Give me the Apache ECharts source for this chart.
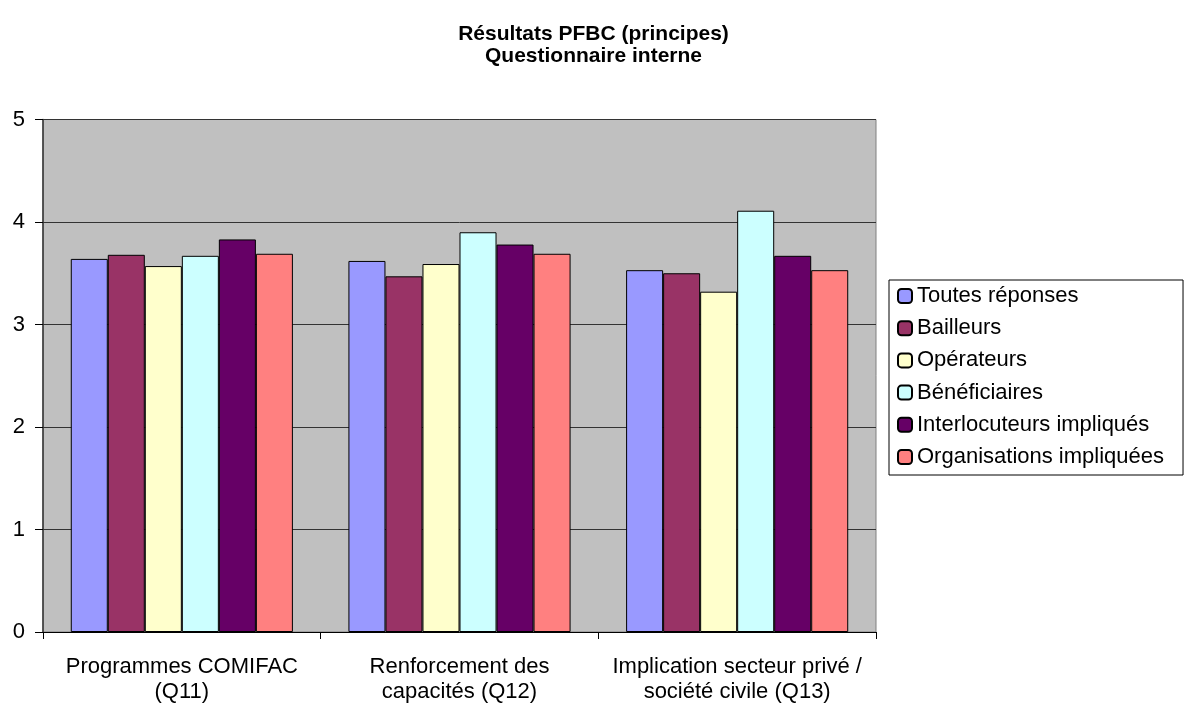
<!DOCTYPE html>
<html>
<head>
<meta charset="utf-8">
<script src="https://cdn.jsdelivr.net/npm/echarts@6/dist/echarts.min.js"></script>
<style>
html,body{margin:0;padding:0;background:#fff;}
#chart{width:1187px;height:709px;}
</style>
</head>
<body>
<div id="chart"></div>
<script>
const titleText = 'Résultats PFBC (principes)\nQuestionnaire interne';
const categories = ['Programmes COMIFAC\n(Q11)', 'Renforcement des\ncapacités (Q12)', 'Implication secteur privé /\nsociété civile (Q13)'];
const yTicks = [0, 1, 2, 3, 4, 5];
const seriesNames = ['Toutes réponses', 'Bailleurs', 'Opérateurs', 'Bénéficiaires', 'Interlocuteurs impliqués', 'Organisations impliquées'];
const seriesColors = ['#9999FF', '#993366', '#FFFFCC', '#CCFFFF', '#660066', '#FF8080'];
const toutesReponses = [3.64, 3.62, 3.53];
const bailleurs = [3.68, 3.47, 3.50];
const operateurs = [3.57, 3.59, 3.32];
const beneficiaires = [3.67, 3.90, 4.11];
const interlocuteurs = [3.83, 3.78, 3.67];
const organisations = [3.69, 3.69, 3.53];
const seriesValues = [toutesReponses, bailleurs, operateurs, beneficiaires, interlocuteurs, organisations];

const FONT = '"Liberation Sans", Arial, sans-serif';
const chart = echarts.init(document.getElementById('chart'));
chart.setOption({
  animation: false,
  backgroundColor: '#ffffff',
  textStyle: { fontFamily: FONT },
  title: {
    text: titleText,
    left: 'center',
    top: 18,
    textStyle: { fontFamily: FONT, fontSize: 21, fontWeight: 'bold', color: '#000', lineHeight: 22 }
  },
  legend: {
    orient: 'vertical',
    left: 889,
    top: 280,
    data: seriesNames,
    itemWidth: 14,
    itemHeight: 14,
    itemGap: 10.2,
    padding: [5, 19, 7, 8],
    borderColor: '#000',
    borderWidth: 1,
    backgroundColor: '#fff',
    borderRadius: 0,
    textStyle: { fontFamily: FONT, fontSize: 22, color: '#000', lineHeight: 22 }
  },
  grid: {
    left: 43, right: 311, top: 119.5, bottom: 77,
    show: true, backgroundColor: '#C0C0C0', borderColor: '#808080', borderWidth: 1
  },
  xAxis: {
    type: 'category',
    data: categories,
    axisLine: { lineStyle: { color: '#000', width: 1 } },
    axisTick: { show: true, length: 7, inside: false, alignWithLabel: false, lineStyle: { color: '#000' } },
    axisLabel: { fontFamily: FONT, fontSize: 22, color: '#000', margin: 22, lineHeight: 25, interval: 0 }
  },
  yAxis: {
    type: 'value',
    min: 0, max: 5, interval: 1,
    axisLine: { show: true, lineStyle: { color: '#333', width: 1.5 } },
    axisTick: { show: true, length: 8, lineStyle: { color: '#000' } },
    axisLabel: { fontFamily: FONT, fontSize: 22, color: '#000', margin: 18,
      formatter: v => yTicks.includes(v) ? String(v) : '' },
    splitLine: { show: true, lineStyle: { color: '#333', width: 1 } }
  },
  series: seriesNames.map((name, i) => ({
    name: name,
    type: 'bar',
    data: seriesValues[i],
    barGap: '0%',
    barCategoryGap: '20%',
    itemStyle: { color: seriesColors[i], borderColor: '#000', borderWidth: 1 }
  }))
});
</script>
</body>
</html>
